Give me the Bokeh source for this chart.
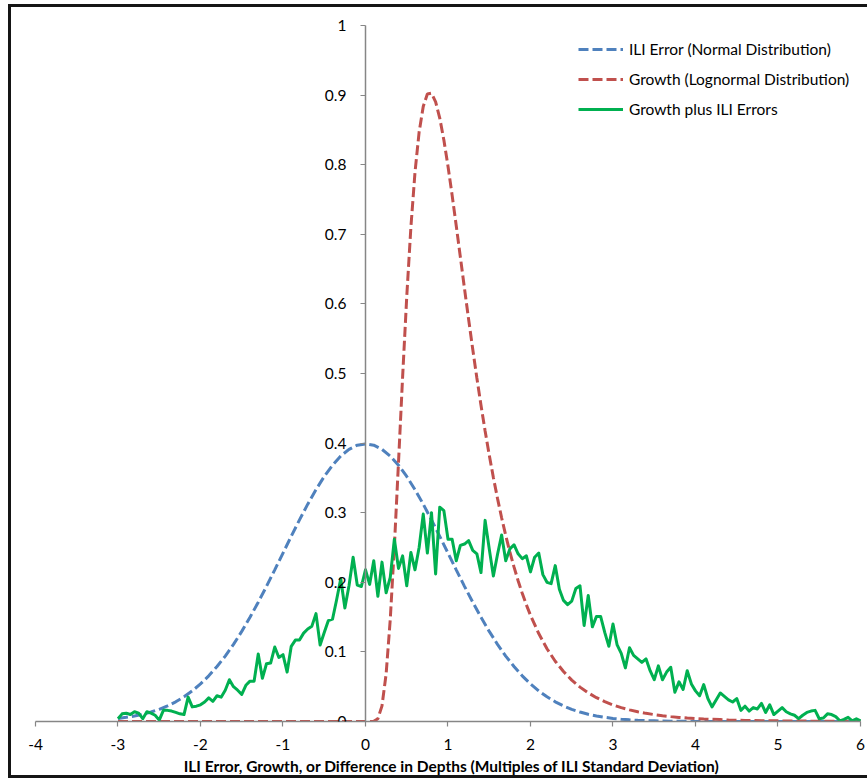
import numpy as np
from bokeh.plotting import figure
from bokeh.models import LinearAxis, FixedTicker, CustomJSTickFormatter, Range1d
from bokeh.embed import file_html
from bokeh.resources import INLINE

# ---- data ----
x_normal = [round(-3 + 0.1 * i, 1) for i in range(91)]

ili_error_normal = [
    0.0044, 0.0060, 0.0079, 0.0104, 0.0136, 0.0175, 0.0224, 0.0283, 0.0355, 0.0440,
    0.0540, 0.0656, 0.0790, 0.0940, 0.1109, 0.1295, 0.1497, 0.1714, 0.1942, 0.2179,
    0.2420, 0.2661, 0.2897, 0.3123, 0.3332, 0.3521, 0.3683, 0.3814, 0.3910, 0.3970,
    0.3989,
    0.3970, 0.3910, 0.3814, 0.3683, 0.3521, 0.3332, 0.3123, 0.2897, 0.2661, 0.2420,
    0.2179, 0.1942, 0.1714, 0.1497, 0.1295, 0.1109, 0.0940, 0.0790, 0.0656, 0.0540,
    0.0440, 0.0355, 0.0283, 0.0224, 0.0175, 0.0136, 0.0104, 0.0079, 0.0060, 0.0044,
    0.0033, 0.0024, 0.0017, 0.0012, 0.0009, 0.0006, 0.0004, 0.0003, 0.0002, 0.0001,
    0, 0, 0, 0, 0, 0, 0, 0, 0, 0,
    0, 0, 0, 0, 0, 0, 0, 0, 0, 0,
]

x_growth = ([-3.0, -2.0, -1.0, 0.0]
            + [round(0.05 * i, 2) for i in range(1, 41)]
            + [round(2 + 0.1 * i, 1) for i in range(1, 41)])

growth_lognormal = [
    0, 0, 0, 0,
    0.0000, 0.0002, 0.0040, 0.0225, 0.0683, 0.1464, 0.2516, 0.3721, 0.4953, 0.6105,
    0.7098, 0.7891, 0.8469, 0.8837, 0.9016, 0.9028, 0.8904, 0.8671, 0.8355, 0.7979,
    0.7563, 0.7123, 0.6672, 0.6221, 0.5778, 0.5348, 0.4936, 0.4544, 0.4175, 0.3829,
    0.3506, 0.3206, 0.2928, 0.2672, 0.2437, 0.2221, 0.2023, 0.1842, 0.1677, 0.1526,
    0.1264, 0.1046, 0.0866, 0.0718, 0.0595, 0.0494, 0.0411, 0.0342, 0.0285, 0.0238,
    0.0199, 0.0167, 0.0140, 0.0117, 0.0099, 0.0083, 0.0070, 0.0059, 0.0050, 0.0043,
    0.0036, 0.0031, 0.0027, 0.0022, 0.0019, 0.0016, 0.0014, 0.0012, 0.0010, 0.0009,
    0.0008, 0.0007, 0.0006, 0.0005, 0.0005, 0.0004, 0.0004, 0.0003, 0.0003, 0.0002,
]

x_sim = [round(-3 + 0.05 * i, 2) for i in range(181)]

growth_plus_ili = [
    0.004, 0.011, 0.012, 0.010, 0.014, 0.012, 0.004, 0.014, 0.012, 0.009,
    0.002, 0.016, 0.016, 0.015, 0.013, 0.011, 0.010, 0.035, 0.021, 0.022,
    0.024, 0.028, 0.034, 0.029, 0.037, 0.035, 0.045, 0.060, 0.050, 0.045,
    0.039, 0.052, 0.058, 0.058, 0.097, 0.062, 0.083, 0.084, 0.107, 0.092,
    0.096, 0.071, 0.108, 0.117, 0.117, 0.127, 0.133, 0.137, 0.155, 0.110,
    0.128, 0.145, 0.147, 0.175, 0.205, 0.163, 0.195, 0.236, 0.196, 0.194,
    0.218, 0.197, 0.231, 0.180, 0.229, 0.185, 0.207, 0.262, 0.220, 0.238,
    0.195, 0.243, 0.218, 0.250, 0.298, 0.242, 0.300, 0.212, 0.308, 0.303,
    0.262, 0.262, 0.231, 0.253, 0.255, 0.260, 0.246, 0.241, 0.214, 0.289,
    0.248, 0.209, 0.240, 0.268, 0.231, 0.248, 0.254, 0.241, 0.234, 0.238,
    0.215, 0.236, 0.242, 0.211, 0.200, 0.198, 0.224, 0.190, 0.174, 0.168,
    0.173, 0.191, 0.195, 0.138, 0.181, 0.136, 0.151, 0.151, 0.128, 0.108,
    0.140, 0.110, 0.098, 0.077, 0.106, 0.095, 0.090, 0.085, 0.090, 0.073,
    0.060, 0.080, 0.060, 0.071, 0.078, 0.042, 0.057, 0.046, 0.073, 0.054,
    0.044, 0.037, 0.053, 0.033, 0.021, 0.031, 0.041, 0.036, 0.031, 0.028,
    0.033, 0.016, 0.022, 0.015, 0.020, 0.018, 0.026, 0.013, 0.024, 0.010,
    0.015, 0.020, 0.014, 0.011, 0.009, 0.004, 0.009, 0.013, 0.015, 0.016,
    0.004, 0.005, 0.011, 0.010, 0.007, 0.001, 0.003, 0.006, 0.001, 0.004,
    0.001,
]

x_ticks = [-4, -3, -2, -1, 0, 1, 2, 3, 4, 5, 6]
y_ticks = [0, 0.1, 0.2, 0.3, 0.4, 0.5, 0.6, 0.7, 0.8, 0.9, 1.0]

series_names = [
    "ILI Error (Normal Distribution)",
    "Growth (Lognormal Distribution)",
    "Growth plus ILI Errors",
]
x_title = "ILI Error, Growth, or Difference in Depths (Multiples of ILI Standard Deviation)"

# ---- styling ----
FONT = "Lato"
FS = "15.5px"
AXIS_GREY = "#868686"
BLUE = "#4F81BD"
RED = "#C0504D"
GREEN = "#00B050"
FRAME = "#151515"

p = figure(
    width=867, height=778,
    x_range=Range1d(-4, 6.085), y_range=Range1d(0, 1.036),
    y_axis_location=None,
    output_backend="svg", toolbar_location=None,
    min_border_left=35, min_border_right=0, min_border_top=0, min_border_bottom=57,
)
p.border_fill_color = None
p.background_fill_color = None
p.outline_line_color = None
p.grid.visible = False
# outer chart-area frame (left, top and bottom edges; the right edge is off-page)
p.styles = {
    "background": (
        f"linear-gradient({FRAME},{FRAME}) 8px 4px / 3px 774px no-repeat, "
        f"linear-gradient({FRAME},{FRAME}) 8px 4px / 859px 3px no-repeat, "
        f"linear-gradient({FRAME},{FRAME}) 8px 775px / 859px 3px no-repeat, "
        "#ffffff"
    ),
}

fmt = CustomJSTickFormatter(code="return String(Math.round(tick*10)/10);")

# x axis (sits at y = 0, the frame bottom)
xa = p.xaxis[0]
xa.ticker = FixedTicker(ticks=x_ticks)
xa.formatter = fmt
xa.bounds = (-4, 6)
xa.axis_line_color = AXIS_GREY
xa.axis_line_width = 1.5
xa.major_tick_line_color = AXIS_GREY
xa.major_tick_line_width = 1.2
xa.major_tick_in = 0
xa.major_tick_out = 5
xa.minor_tick_line_color = None
xa.major_label_text_font = FONT
xa.major_label_text_font_size = FS
xa.major_label_text_color = "#000000"
xa.major_label_standoff = 12
xa.axis_label = x_title
xa.axis_label_text_font = FONT
xa.axis_label_text_font_style = "bold"
xa.axis_label_text_font_size = FS
xa.axis_label_text_color = "#000000"
xa.axis_label_standoff = 4

# y axis crossing at x = 0
ya = LinearAxis(fixed_location=0)
ya.ticker = FixedTicker(ticks=y_ticks)
ya.formatter = fmt
ya.bounds = (0, 1)
ya.axis_line_color = AXIS_GREY
ya.axis_line_width = 1.5
ya.major_tick_line_color = AXIS_GREY
ya.major_tick_line_width = 1.2
ya.major_tick_in = 0
ya.major_tick_out = 5
ya.minor_tick_line_color = None
ya.major_label_text_font = FONT
ya.major_label_text_font_size = FS
ya.major_label_text_color = "#000000"
ya.major_label_standoff = 14
p.add_layout(ya, "left")

p.line(x_normal, ili_error_normal, line_color=BLUE, line_width=3,
       line_dash="10 4", legend_label=series_names[0])
p.line(x_growth, growth_lognormal, line_color=RED, line_width=3,
       line_dash="10 4", legend_label=series_names[1])
p.line(x_sim, growth_plus_ili, line_color=GREEN, line_width=3,
       line_join="round", legend_label=series_names[2])

lg = p.legend[0]
lg.location = (543, 602)
lg.border_line_color = None
lg.background_fill_alpha = 0
lg.padding = 0
lg.margin = 0
lg.spacing = 10
lg.glyph_width = 45
lg.glyph_height = 20
lg.label_height = 20
lg.label_standoff = 6
lg.label_text_font = FONT
lg.label_text_font_size = FS
lg.label_text_color = "#000000"

open("out.html", "w").write(file_html(p, INLINE))
